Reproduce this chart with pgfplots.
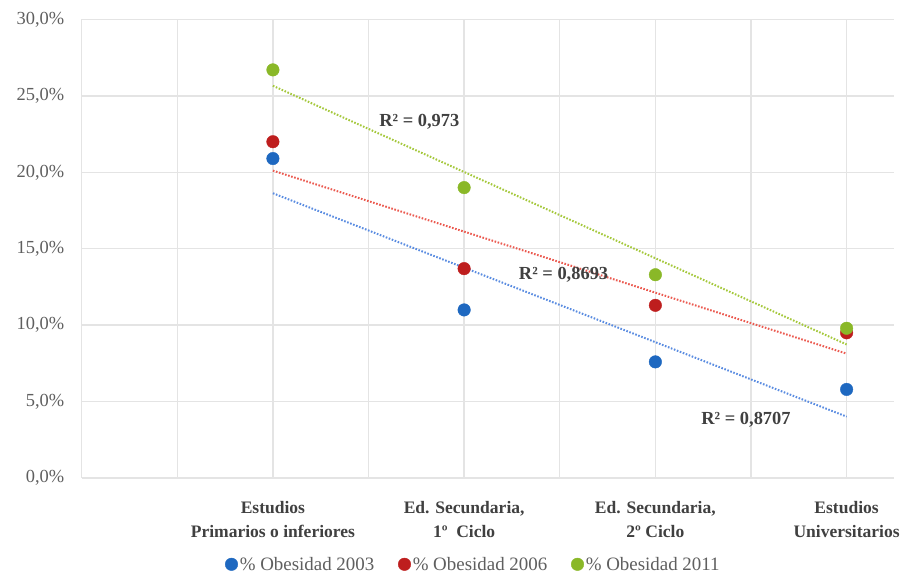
\documentclass[border=0pt]{standalone}
\usepackage{pgfplots}
\pgfplotsset{compat=1.18}
\usepackage{fontspec}
\setmainfont{Liberation Serif}
\definecolor{cblue}{RGB}{30,104,192}
\definecolor{cred}{RGB}{190,30,30}
\definecolor{cgreen}{RGB}{138,184,40}
\definecolor{tblue}{RGB}{90,140,225}
\definecolor{tred}{RGB}{235,90,80}
\definecolor{tgreen}{RGB}{165,200,60}
\definecolor{gridc}{RGB}{228,228,228}
\definecolor{txt}{RGB}{95,95,95}
\definecolor{lab}{RGB}{64,64,64}
\begin{document}
\begin{tikzpicture}
\begin{axis}[
  name=ax,
  at={(0,0)}, anchor=south west,
  scale only axis,
  width=816pt, height=460.5pt,
  xmin=0, xmax=4.25, ymin=0, ymax=30,
  axis line style={draw=none},
  major tick length=0pt, minor tick length=0pt,
  xtick={1,2,3,4},
  minor xtick={0,0.5,1.5,2.5,3.5},
  xticklabels={{Estudios\\Primarios o inferiores}, {Ed. Secundaria,\\1º\ \ Ciclo}, {Ed. Secundaria,\\2º Ciclo}, {Estudios\\Universitarios}},
  xticklabel style={align=center, font=\fontsize{17.6}{24}\selectfont\bfseries, text=lab, yshift=-20pt},
  ytick={0,5,...,30},
  yticklabel={\pgfmathprintnumber[fixed,fixed zerofill,precision=1,use comma]{\tick}\%},
  yticklabel style={font=\fontsize{18.5}{20}\selectfont, text=txt, xshift=-14pt},
  /pgf/number format/assume math mode=true,
  xmajorgrids, xminorgrids, ymajorgrids,
  grid style={gridc, line width=1.4pt},
  minor grid style={gridc, line width=1.4pt},
  legend style={draw=none, inner sep=1pt, at={(0.482,-0.188)}, anchor=center, font=\fontsize{19}{21}\selectfont, text=txt, /tikz/every even column/.append style={column sep=22pt}},
  legend columns=3,
  legend cell align=left,
  clip=false,
]
% trend lines (linear fits, endpoints)
\addplot[tblue, line width=2pt, dash pattern=on 1.6pt off 1.6pt, forget plot] coordinates {(1,18.63) (4,4.02)};
\addplot[tred, line width=2pt, dash pattern=on 1.6pt off 1.6pt, forget plot] coordinates {(1,20.11) (4,8.14)};
\addplot[tgreen, line width=2pt, dash pattern=on 1.6pt off 1.6pt, forget plot] coordinates {(1,25.66) (4,8.74)};
% points
\addplot[only marks, mark=*, mark size=6.3pt, cblue, mark options={draw=cblue, fill=cblue}] coordinates {(1,20.9) (2,11.0) (3,7.6) (4,5.8)};
\addlegendentry{\% Obesidad 2003}
\addplot[only marks, mark=*, mark size=6.3pt, cred, mark options={draw=cred, fill=cred}] coordinates {(1,22.0) (2,13.7) (3,11.3) (4,9.5)};
\addlegendentry{\% Obesidad 2006}
\addplot[only marks, mark=*, mark size=6.3pt, cgreen, mark options={draw=cgreen, fill=cgreen}] coordinates {(1,26.7) (2,19.0) (3,13.3) (4,9.8)};
\addlegendentry{\% Obesidad 2011}
\node[font=\fontsize{18.5}{20}\selectfont\bfseries, text=lab] at (axis cs:1.766,23.3) {R² = 0,973};
\node[font=\fontsize{18.5}{20}\selectfont\bfseries, text=lab] at (axis cs:2.52,13.3) {R² = 0,8693};
\node[font=\fontsize{18.5}{20}\selectfont\bfseries, text=lab] at (axis cs:3.474,3.82) {R² = 0,8707};
\end{axis}
\path (-82pt,-96pt) rectangle (821pt,480pt);
\end{tikzpicture}
\end{document}
